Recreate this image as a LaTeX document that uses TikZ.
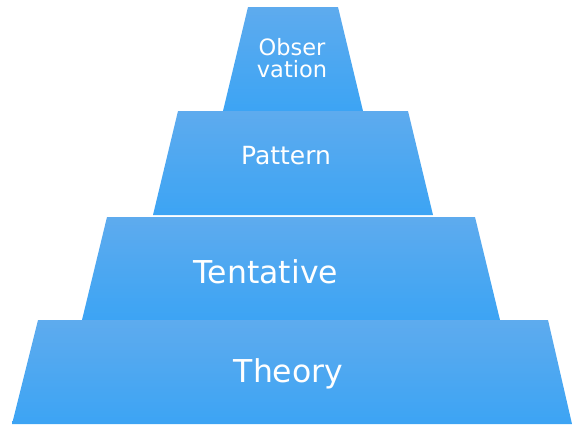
\documentclass[tikz,border=0pt]{standalone}
\usepackage{fontspec}
\setmainfont{DejaVu Sans}
\definecolor{topblue}{RGB}{94,171,238}
\definecolor{botblue}{RGB}{60,164,244}
\begin{document}
\begin{tikzpicture}[x=1pt,y=-1pt,
  level/.style={top color=topblue,bottom color=botblue,draw=none},
  lbl/.style={text=white,anchor=base,inner sep=0pt,align=center}]
\useasboundingbox (0,0) rectangle (572,424);
\shade[level] (248,7) -- (338,7) -- (363,111) -- (223,111) -- cycle;
\shade[level] (178,111) -- (408,111) -- (433,215) -- (153,215) -- cycle;
\shade[level] (107,217) -- (475,217) -- (500,320) -- (82,320) -- cycle;
\shade[level] (38,320) -- (548,320) -- (572,424) -- (12,424) -- cycle;
\node[lbl,font=\fontsize{22.5}{22}\selectfont] (obs) at (292,77) {Obser\\vation};
\node[lbl,font=\fontsize{25}{25}\selectfont] (pat) at (286,164) {Pattern};
\node[lbl,font=\fontsize{31.5}{31}\selectfont] (ten) at (266,283) {Tentative};
\node[lbl,font=\fontsize{31.5}{31}\selectfont] (the) at (288.5,382) {Theory};
\end{tikzpicture}
\end{document}
